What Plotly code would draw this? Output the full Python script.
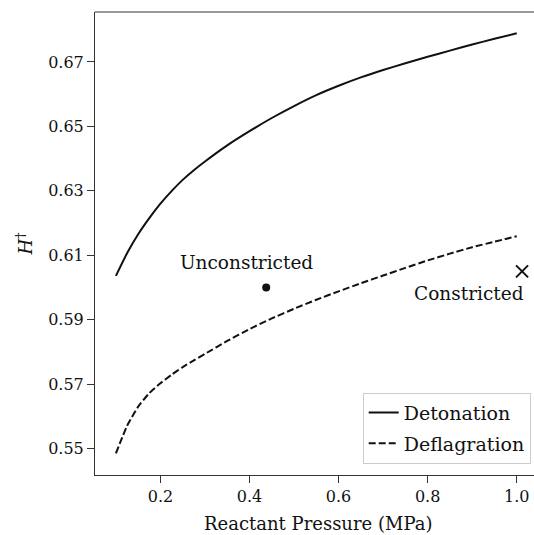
import plotly.graph_objects as go

# Data
pressure = [0.10, 0.125, 0.15, 0.175, 0.20, 0.225, 0.25, 0.275, 0.30, 0.35, 0.40, 0.45,
            0.50, 0.55, 0.60, 0.65, 0.70, 0.75, 0.80, 0.85, 0.90, 0.95, 1.00]
detonation = [0.6036, 0.6106, 0.6165, 0.6215, 0.6260, 0.6299, 0.6334, 0.6364, 0.6391, 0.6441,
              0.6485, 0.6526, 0.6563, 0.6597, 0.6626, 0.6652, 0.6675, 0.6696, 0.6716, 0.6735,
              0.6754, 0.6772, 0.6789]
deflagration = [0.5485, 0.5570, 0.5630, 0.5672, 0.5703, 0.5729, 0.5753, 0.5774, 0.5794, 0.5834,
                0.5871, 0.5904, 0.5934, 0.5962, 0.5988, 0.6013, 0.6037, 0.6061, 0.6084, 0.6105,
                0.6125, 0.6142, 0.6159]
unconstricted = (0.4375, 0.6000)
constricted = (1.012, 0.6050)
xticks = [0.2, 0.4, 0.6, 0.8, 1.0]
yticks = [0.55, 0.57, 0.59, 0.61, 0.63, 0.65, 0.67]

FONT = "DejaVu Serif"
SPINE = "#333333"

fig = go.Figure()
fig.add_trace(go.Scatter(x=pressure, y=detonation, mode="lines", name="Detonation",
                         legendgroup="a",
                         line=dict(color="#111111", width=2, shape="spline", smoothing=0.5)))
fig.add_trace(go.Scatter(x=pressure, y=deflagration, mode="lines", name="Deflagration",
                         legendgroup="b",
                         line=dict(color="#111111", width=2, dash="7px,3px",
                                   shape="spline", smoothing=0.5)))
fig.add_trace(go.Scatter(x=[unconstricted[0]], y=[unconstricted[1]], mode="markers",
                         showlegend=False,
                         marker=dict(symbol="circle", size=8, color="#111111")))
fig.add_trace(go.Scatter(x=[constricted[0]], y=[constricted[1]], mode="markers",
                         showlegend=False,
                         marker=dict(symbol="x-thin", size=12, color="#111111",
                                     line=dict(color="#111111", width=2))))

fig.add_annotation(x=0.3928, y=0.6077, text="Unconstricted", showarrow=False,
                   xanchor="center", yanchor="middle",
                   font=dict(family=FONT, size=18.5, color="#111"))
fig.add_annotation(x=0.8928, y=0.5981, text="Constricted", showarrow=False,
                   xanchor="center", yanchor="middle",
                   font=dict(family=FONT, size=18.5, color="#111"))
fig.add_annotation(x=0.508, y=-0.104, xref="paper", yref="paper",
                   text="Reactant Pressure (MPa)", showarrow=False,
                   xanchor="center", yanchor="middle",
                   font=dict(family=FONT, size=18, color="#111"))

fig.add_shape(type="line", xref="paper", yref="paper", x0=0, x1=1, y0=1, y1=1,
              line=dict(color=SPINE, width=1))

fig.update_layout(
    width=534, height=535,
    margin=dict(l=95, r=0, t=12, b=60),
    plot_bgcolor="white", paper_bgcolor="white",
    font=dict(family=FONT, size=16, color="#111"),
    showlegend=True,
    legend=dict(x=0.9925, y=0.0246, xanchor="right", yanchor="bottom",
                bgcolor="rgba(255,255,255,0.8)", bordercolor="#cccccc", borderwidth=1,
                tracegroupgap=3,
                font=dict(family=FONT, size=19, color="#111")),
    xaxis=dict(range=[0.0531, 1.0388], tickvals=xticks, ticktext=[f"{v:.1f}" for v in xticks],
               showgrid=False, zeroline=False, showline=True, linecolor=SPINE, linewidth=1,
               ticks="outside", ticklen=7, tickwidth=1, tickcolor=SPINE,
               tickfont=dict(family=FONT, size=16)),
    yaxis=dict(range=[0.5418, 0.6855], tickvals=yticks, ticktext=[f"{v:.2f}" for v in yticks],
               showgrid=False, zeroline=False, showline=True, linecolor=SPINE, linewidth=1,
               ticks="outside", ticklen=7, tickwidth=1, tickcolor=SPINE,
               tickfont=dict(family=FONT, size=16),
               title=dict(text="<i>H</i><sup>†</sup>", font=dict(family=FONT, size=18),
                          standoff=10)),
)

fig.write_html("out.html")
